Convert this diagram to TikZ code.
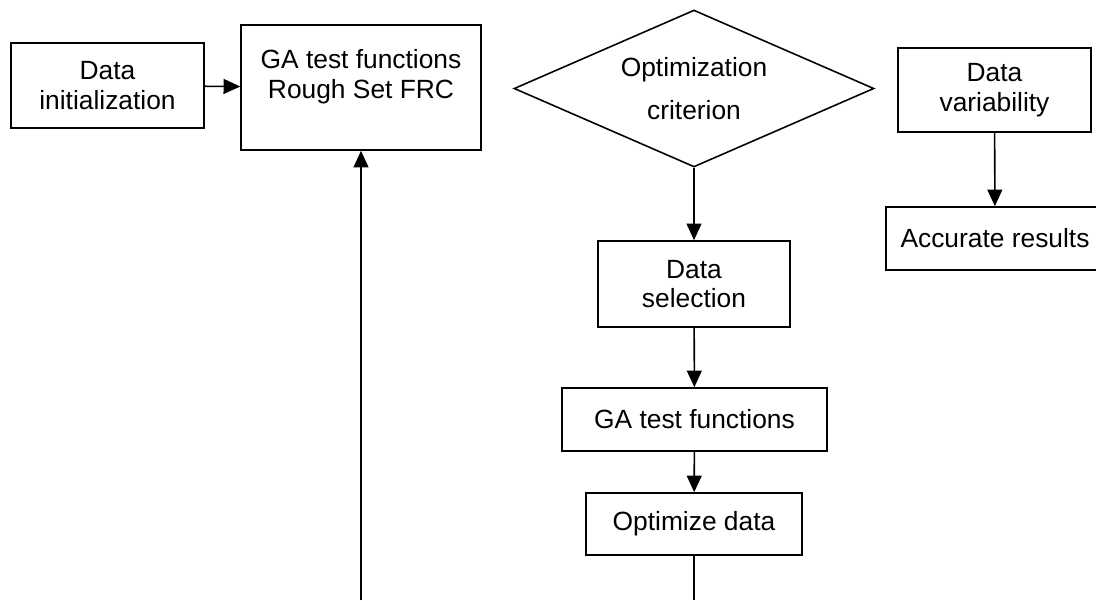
\documentclass[tikz,border=0pt]{standalone}
\usepackage{fontspec}
\setmainfont{Liberation Sans}
\usetikzlibrary{shapes.geometric,arrows.meta}

\begin{document}
\begin{tikzpicture}
        [x=0.02cm,y=-0.02cm,line width=0.9pt,>={Triangle[length=9.5pt,width=8.5pt]},
         every node/.style={draw,align=center,inner sep=0pt,font=\fontsize{15}{17}\selectfont}]
        \clip (0,0) rectangle (1096,600);
        \node[minimum width=3.86cm,minimum height=1.7cm] (init) at (107.5,85.5) {Data\\initialization};
        \node[minimum width=4.8cm,minimum height=2.5cm] (rough) at (361,87.5) {};
        \node[draw=none] (roughtext) at (361,77) {GA test functions\\Rough Set FRC};
        \node[diamond,aspect=2.3,minimum width=7.2cm,minimum height=3.14cm] (crit) at (694,88.5) {Optimization\\[7pt]criterion};
        \node[minimum width=3.86cm,minimum height=1.68cm] (var) at (994.5,90) {Data\\variability};
        \node[minimum width=4.36cm,minimum height=1.26cm] (acc) at (995,238.5) {Accurate results};
        \node[minimum width=3.84cm,minimum height=1.72cm] (sel) at (694,284) {Data\\selection};
        \node[minimum width=5.3cm,minimum height=1.26cm] (ga) at (694.5,419.5) {GA test functions};
        \node[minimum width=4.32cm,minimum height=1.24cm] (opt) at (694,524) {Optimize data};
        \coordinate (loop) at (361,600);
        \coordinate (out) at (694,600);

        \foreach \from/\to in {init/rough, crit/sel, sel/ga, ga/opt, var/acc, loop/rough}
            \draw[->] (\from) -- (\to);
        \draw (opt) -- (out);

      \end{tikzpicture}
\end{document}
